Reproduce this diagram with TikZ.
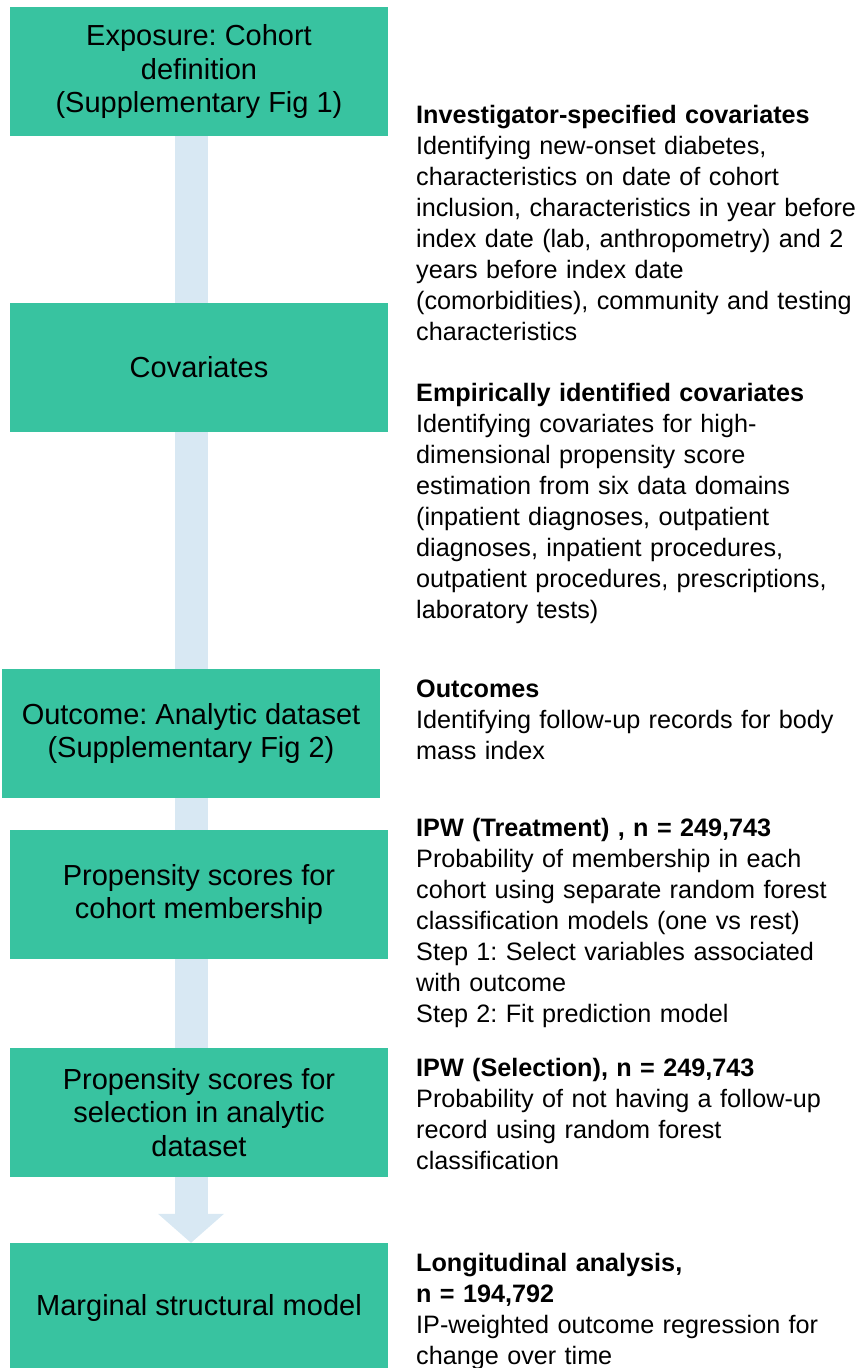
\documentclass[tikz,border=0pt]{standalone}
\usepackage{fontspec}
\setmainfont{Liberation Sans}
\usetikzlibrary{arrows.meta,backgrounds}

\definecolor{boxgreen}{RGB}{56,195,160}
\definecolor{shaftblue}{RGB}{216,232,243}

\begin{document}
\begin{tikzpicture}[x=1pt, y=-1pt,
    base/.style = {rectangle, fill=boxgreen, minimum width=378pt,
minimum height=129pt, inner sep=0pt, align=center,
font=\frenchspacing\fontsize{29pt}{33.5pt}\selectfont},
    note/.style = {anchor=base west, inner sep=0pt, text width=460pt,
align=left, font=\frenchspacing\fontsize{25.2pt}{31pt}\selectfont},
    flow/.style = {draw=shaftblue, line width=33pt,
-{Triangle[width=66pt, length=29pt, line width=0pt]}}
]
  \useasboundingbox (0,0) rectangle (861,1368);

  % left column
  \node (expo)  [base] at (199,71.5)   {Exposure: Cohort\\definition\\(Supplementary Fig 1)};
  \node (cov)   [base] at (199,367)    {Covariates};
  \node (outc)  [base] at (191,733.5)  {Outcome: Analytic dataset\\(Supplementary Fig 2)};
  \node (pscoh) [base] at (199,894.5)  {Propensity scores for\\cohort membership};
  \node (pssel) [base] at (199,1112.5) {Propensity scores for\\selection in analytic\\dataset};
  \node (msm)   [base] at (199,1307.5) {Marginal structural model};

  % right column
  \node (invcov) [note] at (416,123) {\textbf{Investigator-specified covariates}\\
    Identifying new-onset diabetes,\\characteristics on date of cohort\\
    inclusion, characteristics in year before\\index date (lab, anthropometry) and 2\\
    years before index date\\(comorbidities), community and testing\\characteristics};
  \node (empcov) [note] at (416,401.5) {\textbf{Empirically identified covariates}\\
    Identifying covariates for high-\\dimensional propensity score\\
    estimation from six data domains\\(inpatient diagnoses, outpatient\\
    diagnoses, inpatient procedures,\\outpatient procedures, prescriptions,\\laboratory tests)};
  \node (outtxt) [note] at (416,697) {\textbf{Outcomes}\\
    Identifying follow-up records for body\\mass index};
  \node (ipwt) [note] at (416,836.5) {\textbf{IPW (Treatment) , n = 249,743}\\
    Probability of membership in each\\cohort using separate random forest\\
    classification models (one vs rest)\\Step 1: Select variables associated\\
    with outcome\\Step 2: Fit prediction model};
  \node (ipws) [note] at (416,1076.5) {\textbf{IPW (Selection), n = 249,743}\\
    Probability of not having a follow-up\\record using random forest\\classification};
  \node (longi) [note] at (416,1271) {\textbf{Longitudinal analysis,}\\\textbf{n = 194,792}\\
    IP-weighted outcome regression for\\change over time};

  \begin{pgfonlayer}{background}
    \draw[flow] (expo.south -| outc.center) -- (msm.north -| outc.center);
  \end{pgfonlayer}

\end{tikzpicture}
\end{document}
